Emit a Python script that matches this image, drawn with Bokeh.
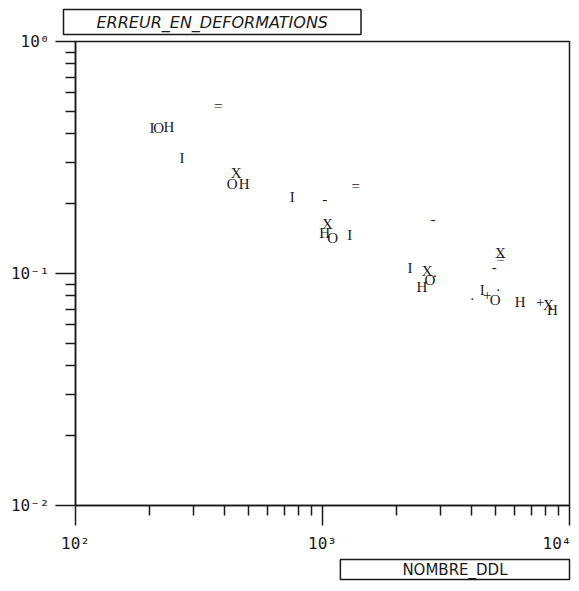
from bokeh.plotting import figure
from bokeh.models import Title, ColumnDataSource, FixedTicker
from bokeh.core.properties import value
from bokeh.embed import file_html
from bokeh.resources import INLINE

# Series (marker letter, DDL, error)
ddl_I = [204, 270, 755, 1290, 2260, 4430]
err_I = [0.422, 0.316, 0.213, 0.146, 0.106, 0.0845]

ddl_O = [217, 431, 1100, 2720, 5000]
err_O = [0.422, 0.244, 0.1416, 0.0933, 0.0765]

ddl_H = [239, 482, 1020, 2525, 6320, 8530]
err_H = [0.426, 0.242, 0.150, 0.0871, 0.075, 0.0693]

ddl_X = [447, 1048, 2650, 5250, 8220]
err_X = [0.272, 0.164, 0.103, 0.123, 0.0728]

ddl_EQ = [378, 1362, 5250]
err_EQ = [0.525, 0.239, 0.116]

ddl_DASH = [1020, 2800, 4955]
err_DASH = [0.2085, 0.1726, 0.107]

ddl_PLUS = [4640, 7620]
err_PLUS = [0.0804, 0.075]

ddl_DOT = [4035, 2853, 5145]
err_DOT = [0.0773, 0.098, 0.0845]

series = [
    ("I", ddl_I, err_I),
    ("O", ddl_O, err_O),
    ("H", ddl_H, err_H),
    ("X", ddl_X, err_X),
    ("=", ddl_EQ, err_EQ),
    ("-", ddl_DASH, err_DASH),
    ("+", ddl_PLUS, err_PLUS),
    ("\u00b7", ddl_DOT, err_DOT),
]

title_text = "ERREUR_EN_DEFORMATIONS"
xlabel_text = "NOMBRE_DDL"
x_major = [100, 1000, 10000]
x_minor = [200, 300, 400, 500, 600, 700, 800, 900,
           2000, 3000, 4000, 5000, 6000, 7000, 8000, 9000]
y_major = [0.01, 0.1, 1]
y_minor = [0.02, 0.03, 0.04, 0.05, 0.06, 0.07, 0.08, 0.09,
           0.2, 0.3, 0.4, 0.5, 0.6, 0.7, 0.8, 0.9]
x_tick_labels = {100: "10\u00b2", 1000: "10\u00b3", 10000: "10\u2074"}
y_tick_labels = {1: "10\u2070", 0.1: "10\u207b\u00b9", 0.01: "10\u207b\u00b2"}

INK = "#1a1a1a"

p = figure(width=571, height=583, x_axis_type="log", y_axis_type="log",
           x_range=(100, 10000), y_range=(0.01, 1),
           output_backend="svg", toolbar_location=None,
           min_border_left=75, min_border_right=2,
           min_border_top=41, min_border_bottom=78)

p.grid.visible = False
p.background_fill_color = "white"
p.border_fill_color = "white"
p.outline_line_color = INK
p.outline_line_width = 1.5

p.xaxis[0].ticker = FixedTicker(ticks=x_major, minor_ticks=x_minor)
p.yaxis[0].ticker = FixedTicker(ticks=y_major, minor_ticks=y_minor)

for ax in (p.xaxis[0], p.yaxis[0]):
    ax.axis_line_color = INK
    ax.axis_line_width = 1.5
    ax.major_tick_line_color = INK
    ax.minor_tick_line_color = INK
    ax.major_tick_line_width = 1.5
    ax.minor_tick_line_width = 1.5
    ax.major_tick_in = 0
    ax.major_tick_out = 20
    ax.minor_tick_in = 0
    ax.minor_tick_out = 10
    ax.major_label_text_font = "DejaVu Sans Mono"
    ax.major_label_text_font_size = "16px"
    ax.major_label_text_color = INK

p.xaxis[0].major_label_overrides = x_tick_labels
p.yaxis[0].major_label_overrides = y_tick_labels
p.xaxis[0].major_label_standoff = 8
p.yaxis[0].major_label_standoff = 6

for sym, xs, ys in series:
    src = ColumnDataSource(dict(x=xs, y=ys, t=[sym] * len(xs)))
    p.text(x="x", y="y", text="t", source=src, text_align="center",
           text_baseline="middle", text_font=value("Liberation Serif"),
           text_font_size="15px", text_color=INK)

t = Title(text=title_text, align="left", offset=-12,
          text_font="DejaVu Sans", text_font_style="italic",
          text_font_size="16px", text_color=INK,
          border_line_color=INK, border_line_width=1.5,
          background_fill_color="white", padding=(33, 3), standoff=14)
p.add_layout(t, "above")

xl = Title(text=xlabel_text, align="right", offset=0,
           text_font="DejaVu Sans", text_font_style="normal",
           text_font_size="15px", text_color=INK,
           border_line_color=INK, border_line_width=1.5,
           background_fill_color="white", padding=(62, 1), standoff=4)
p.add_layout(xl, "below")

open("out.html", "w").write(file_html(p, INLINE))
